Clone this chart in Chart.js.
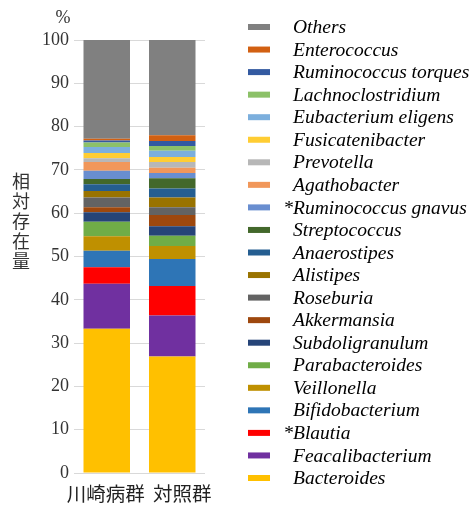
<!DOCTYPE html>
<html>
<head>
<meta charset="utf-8">
<script src="https://cdn.jsdelivr.net/npm/chart.js@4.4.1/dist/chart.umd.min.js"></script>
<style>
    html, body { margin: 0; padding: 0; background: #ffffff; }
</style>
</head>
<body>
<canvas id="myChart" width="473" height="505"></canvas>
<script>
// Gruppen (x-Achse)
const groups = ['川崎病群', '対照群'];
const yTitle = '相対存在量';
const yUnit = '%';

// Taxa von unten nach oben im Stapel
const taxa = [
    'Bacteroides', 'Feacalibacterium', '*Blautia', 'Bifidobacterium', 'Veillonella',
    'Parabacteroides', 'Subdoligranulum', 'Akkermansia', 'Roseburia', 'Alistipes',
    'Anaerostipes', 'Streptococcus', '*Ruminococcus gnavus', 'Agathobacter', 'Prevotella',
    'Fusicatenibacter', 'Eubacterium eligens', 'Lachnoclostridium', 'Ruminococcus torques',
    'Enterococcus', 'Others'
];

// Anteile in %
const kawasakiValues = [
    33.3, 10.4, 3.8, 3.8, 3.4,
    3.3, 2.2, 1.2, 2.2, 1.5,
    1.6, 1.2, 1.9, 2.0, 0.9,
    1.2, 1.4, 1.0, 0.5,
    0.4, 22.8
];
const controlValues = [
    26.9, 9.5, 6.8, 6.2, 3.0,
    2.4, 2.2, 2.6, 1.8, 2.2,
    2.1, 2.4, 1.2, 1.2, 1.3,
    1.2, 1.4, 1.1, 1.2,
    1.3, 22.0
];

const taxaColors = [
    '#FFC000', '#7030A0', '#FF0000', '#2E75B6', '#BF9000',
    '#70AD47', '#264478', '#9E480E', '#636363', '#997300',
    '#255E91', '#43682B', '#698ED0', '#F1975A', '#B7B7B7',
    '#FFCD33', '#7CAFDD', '#8CC168', '#335AA1',
    '#D26012', '#808080'
];

// kleine Verschiebung der Gruppennamen wie im Original
const groupLabelShift = [-1, 10];

// Legende, Achsentitel, Gruppennamen und "%" selbst zeichnen
const extrasPlugin = {
    id: 'extras',
    afterDraw(chart) {
        const ctx = chart.ctx;
        const xScale = chart.scales.x;
        const yScale = chart.scales.y;
        ctx.save();
        ctx.textBaseline = 'middle';
        ctx.textAlign = 'center';

        // Gruppennamen unter den Balken
        ctx.fillStyle = '#222222';
        ctx.font = '19.5px "Noto Sans CJK JP"';
        groups.forEach((g, i) => {
            ctx.fillText(g, xScale.getPixelForValue(i) + groupLabelShift[i], yScale.bottom + 21);
        });

        // y-Achsentitel, Zeichen untereinander
        ctx.fillStyle = '#333333';
        ctx.font = '18px "Noto Sans CJK JP"';
        Array.from(yTitle).forEach((c, i) => {
            ctx.fillText(c, 21, 181 + i * 20);
        });

        // Einheit über der Achse
        ctx.font = '18px "Liberation Serif"';
        ctx.fillText(yUnit, 63, 18);

        // Legende (oben: letztes Taxon)
        ctx.font = 'italic 19.5px "Liberation Serif"';
        ctx.textAlign = 'left';
        const n = taxa.length;
        for (let i = 0; i < n; i++) {
            const idx = n - 1 - i;
            const y = 27 + i * 22.55;
            ctx.fillStyle = taxaColors[idx];
            ctx.fillRect(248, y - 3, 22, 6);
            ctx.fillStyle = '#000000';
            const name = taxa[idx];
            let x = 293;
            if (name.startsWith('*')) {
                x = 293 - ctx.measureText('*').width;
            }
            ctx.fillText(name, x, y + 1);
        }
        ctx.restore();
    }
};

function createStackedChart() {
    const ctx = document.getElementById('myChart').getContext('2d');
    const datasets = taxa.map((name, i) => ({
        label: name,
        data: [kawasakiValues[i], controlValues[i]],
        backgroundColor: taxaColors[i],
        borderWidth: 0,
        barPercentage: 0.71,
        categoryPercentage: 1.0
    }));

    new Chart(ctx, {
        type: 'bar',
        data: {
            labels: groups,
            datasets: datasets
        },
        options: {
            responsive: false,
            animation: false,
            layout: {
                padding: { left: 37, right: 268, top: 40, bottom: 32 }
            },
            plugins: {
                legend: { display: false },
                tooltip: { enabled: false }
            },
            scales: {
                x: {
                    stacked: true,
                    grid: { display: false, drawTicks: false },
                    border: { display: false },
                    ticks: { display: false }
                },
                y: {
                    stacked: true,
                    min: 0,
                    max: 100,
                    grid: { color: '#d9d9d9', drawTicks: false },
                    border: { display: false },
                    ticks: {
                        stepSize: 10,
                        color: '#333333',
                        padding: 5,
                        font: { family: 'Liberation Serif', size: 18 }
                    }
                }
            }
        },
        plugins: [extrasPlugin]
    });
}

createStackedChart();
</script>
</body>
</html>
